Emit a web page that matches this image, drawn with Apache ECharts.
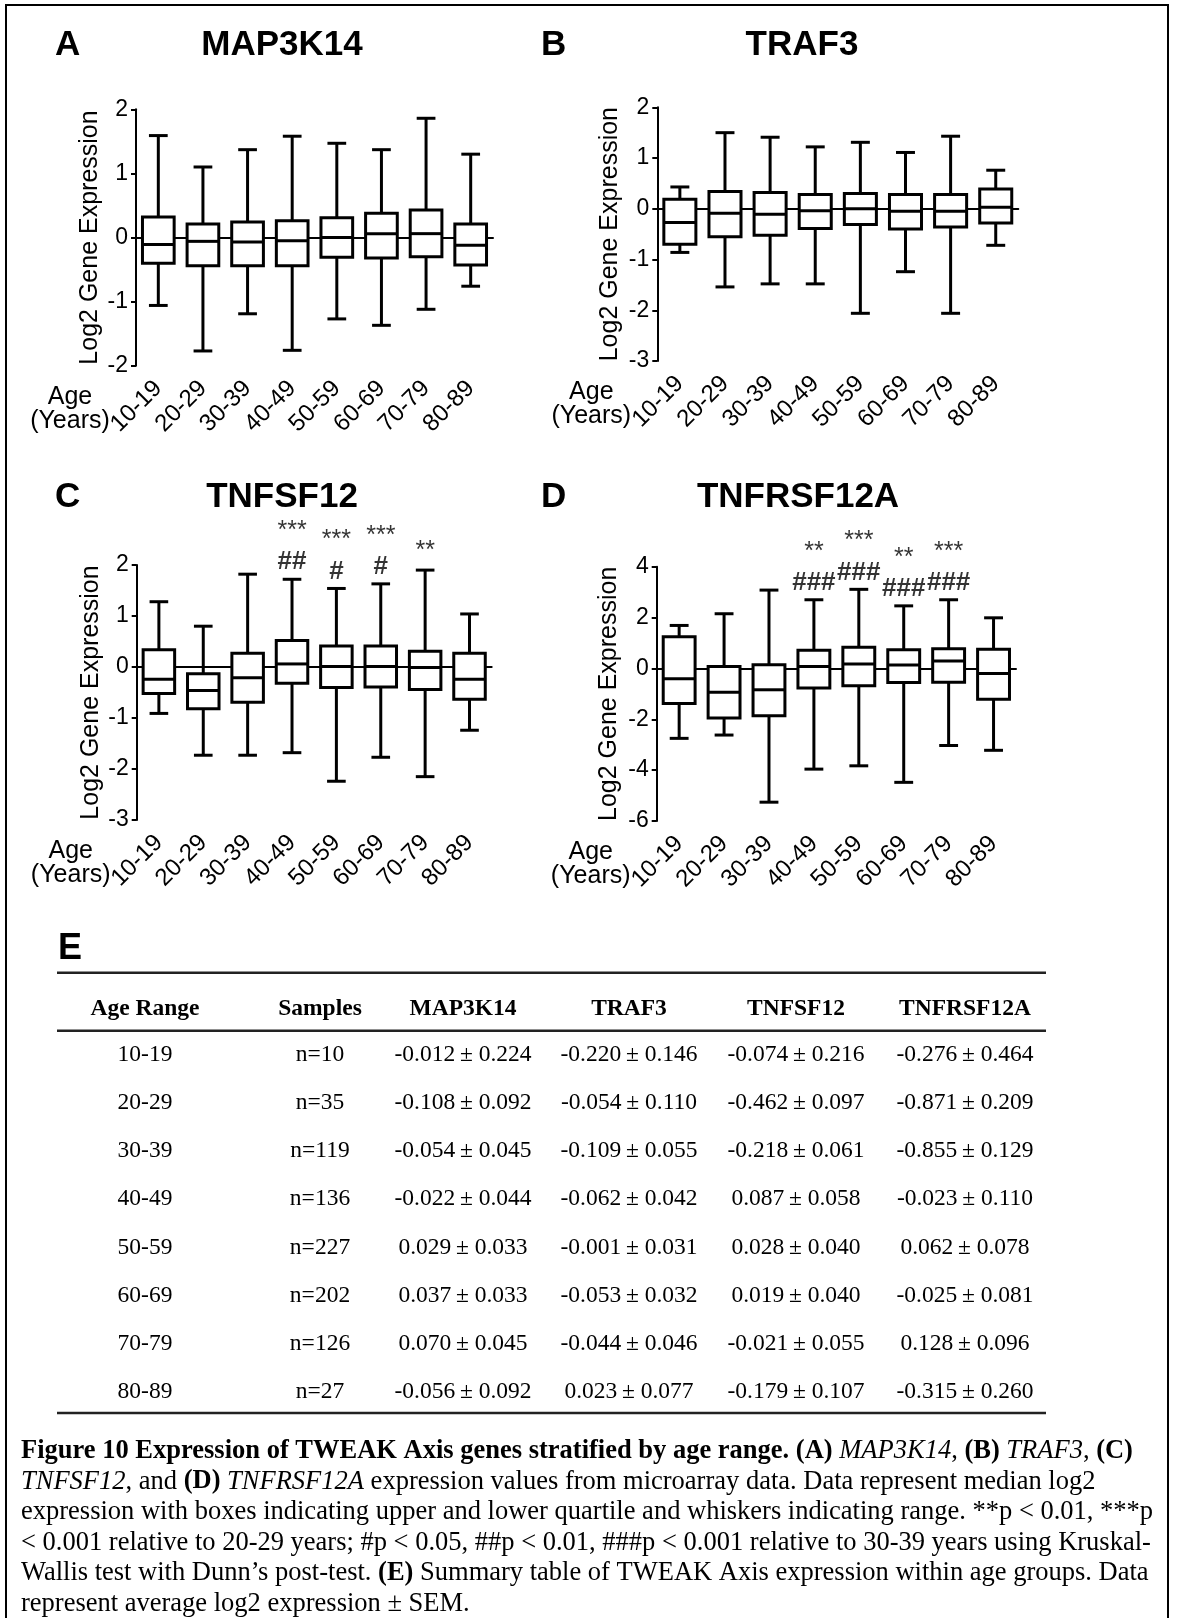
<!DOCTYPE html>
<html>
<head>
<meta charset="utf-8">
<script src="https://cdn.jsdelivr.net/npm/echarts@6/dist/echarts.min.js"></script>
<style>
html,body{margin:0;padding:0;background:#fff;}
#chart{width:1182px;height:1618px;}
</style>
</head>
<body>
<div id="chart"></div>
<script>
// ---------------- DATA ----------------
const ageGroups = ['10-19','20-29','30-39','40-49','50-59','60-69','70-79','80-89'];

// box values: [min, Q1, median, Q3, max]
const map3k14Box = [
  [-1.06,-0.40,-0.11,0.32,1.59],
  [-1.77,-0.44,-0.06,0.21,1.10],
  [-1.19,-0.44,-0.07,0.24,1.37],
  [-1.76,-0.44,-0.05,0.26,1.58],
  [-1.27,-0.31, 0.00,0.31,1.47],
  [-1.37,-0.32, 0.06,0.38,1.37],
  [-1.12,-0.30, 0.06,0.43,1.86],
  [-0.76,-0.43,-0.12,0.21,1.30]
];
const traf3Box = [
  [-0.86,-0.70,-0.27,0.19,0.43],
  [-1.54,-0.55,-0.09,0.34,1.50],
  [-1.48,-0.52,-0.11,0.32,1.41],
  [-1.48,-0.39,-0.04,0.28,1.22],
  [-2.06,-0.31, 0.00,0.30,1.31],
  [-1.24,-0.40,-0.05,0.28,1.11],
  [-2.06,-0.36,-0.05,0.28,1.43],
  [-0.72,-0.28, 0.03,0.39,0.76]
];
const tnfsf12Box = [
  [-0.91,-0.52,-0.24, 0.34,1.28],
  [-1.73,-0.82,-0.46,-0.13,0.80],
  [-1.73,-0.69,-0.21, 0.27,1.82],
  [-1.68,-0.32, 0.06, 0.52,1.72],
  [-2.24,-0.40, 0.01, 0.41,1.54],
  [-1.77,-0.39, 0.01, 0.41,1.63],
  [-2.15,-0.44,-0.01, 0.31,1.90],
  [-1.24,-0.63,-0.24, 0.27,1.04]
];
const tnfrsf12aBox = [
  [-2.75,-1.38,-0.41,1.25,1.69],
  [-2.62,-1.95,-0.94,0.08,2.15],
  [-5.26,-1.86,-0.84,0.14,3.08],
  [-3.96,-0.77, 0.08,0.71,2.70],
  [-3.83,-0.68, 0.17,0.83,3.11],
  [-4.48,-0.55, 0.13,0.73,2.46],
  [-3.03,-0.54, 0.29,0.77,2.70],
  [-3.22,-1.21,-0.20,0.75,1.99]
];

// significance marks
const tnfsf12Stars  = ['','','','***','***','***','**',''];
const tnfsf12Hashes = ['','','','##','#','#','',''];
const tnfrsf12aStars  = ['','','','**','***','**','***',''];
const tnfrsf12aHashes = ['','','','###','###','###','###',''];

// y axis ticks
const map3k14Ticks   = {min:-2, max:2, interval:1};
const traf3Ticks     = {min:-3, max:2, interval:1};
const tnfsf12Ticks   = {min:-3, max:2, interval:1};
const tnfrsf12aTicks = {min:-6, max:4, interval:2};

// table E
const tableHeaders = ['Age Range','Samples','MAP3K14','TRAF3','TNFSF12','TNFRSF12A'];
const sampleCounts = [10,35,119,136,227,202,126,27];
const map3k14Mean = [-0.012,-0.108,-0.054,-0.022,0.029,0.037,0.070,-0.056];
const map3k14Sem  = [0.224,0.092,0.045,0.044,0.033,0.033,0.045,0.092];
const traf3Mean = [-0.220,-0.054,-0.109,-0.062,-0.001,-0.053,-0.044,0.023];
const traf3Sem  = [0.146,0.110,0.055,0.042,0.031,0.032,0.046,0.077];
const tnfsf12Mean = [-0.074,-0.462,-0.218,0.087,0.028,0.019,-0.021,-0.179];
const tnfsf12Sem  = [0.216,0.097,0.061,0.058,0.040,0.040,0.055,0.107];
const tnfrsf12aMean = [-0.276,-0.871,-0.855,-0.023,0.062,-0.025,0.128,-0.315];
const tnfrsf12aSem  = [0.464,0.209,0.129,0.110,0.078,0.081,0.096,0.260];

// caption (rich text lines)
const captionLines = [
  '{b|Figure 10 Expression of TWEAK Axis genes stratified by age range.} {b|(A)} {i|MAP3K14}, {b|(B)} {i|TRAF3}, {b|(C)}',
  '{i|TNFSF12}, and {b|(D)} {i|TNFRSF12A} expression values from microarray data. Data represent median log2',
  'expression with boxes indicating upper and lower quartile and whiskers indicating range. **p < 0.01, ***p',
  '< 0.001 relative to 20-29 years; #p < 0.05, ##p < 0.01, ###p < 0.001 relative to 30-39 years using Kruskal-',
  'Wallis test with Dunn\u2019s post-test. {b|(E)} Summary table of TWEAK Axis expression within age groups. Data',
  'represent average log2 expression \u00b1 SEM.'
];

// ---------------- LAYOUT / STYLE ----------------
const SANS = '"Liberation Sans", Arial, Helvetica, sans-serif';
const SERIF = '"Liberation Serif", "Times New Roman", Times, serif';

const panels = [
  {letter:'A', gene:'MAP3K14', box:map3k14Box, ticks:map3k14Ticks, stars:null, hashes:null,
   grid:{left:136, top:109.3, width:357, height:256.4}, titleX:282, rowY:45, letterX:55, nameGap:33},
  {letter:'B', gene:'TRAF3', box:traf3Box, ticks:traf3Ticks, stars:null, hashes:null,
   grid:{left:657.3, top:107.3, width:361, height:253.7}, titleX:802, rowY:45, letterX:541, nameGap:35},
  {letter:'C', gene:'TNFSF12', box:tnfsf12Box, ticks:tnfsf12Ticks, stars:tnfsf12Stars, hashes:tnfsf12Hashes,
   grid:{left:136.7, top:565, width:355, height:255}, titleX:282, rowY:497, letterX:55, nameGap:33},
  {letter:'D', gene:'TNFRSF12A', box:tnfrsf12aBox, ticks:tnfrsf12aTicks, stars:tnfrsf12aStars, hashes:tnfrsf12aHashes,
   grid:{left:656.7, top:566.7, width:359.3, height:254.3}, titleX:798, rowY:497, letterX:541, nameGap:35}
];

function txt(x, y, text, font, align, extra) {
  return Object.assign({
    type:'text', x:x, y:y, silent:true,
    style:{text:text, font:font, fill:'#000', align:align||'center', textAlign:align||'center',
           verticalAlign:'middle', textVerticalAlign:'middle'}
  }, extra||{});
}

function boxRender(params, api) {
  const i = api.value(0);
  const band = api.size([1, 0])[0];
  const bw = band * 0.71, cw = band * 0.42;
  const pMin = api.coord([i, api.value(1)]);
  const pQ1 = api.coord([i, api.value(2)]);
  const pMed = api.coord([i, api.value(3)]);
  const pQ3 = api.coord([i, api.value(4)]);
  const pMax = api.coord([i, api.value(5)]);
  const cx = pMed[0];
  const st = {stroke:'#000', lineWidth:3};
  return {type:'group', children:[
    {type:'line', shape:{x1:cx, y1:pQ3[1], x2:cx, y2:pMax[1]}, style:st},
    {type:'line', shape:{x1:cx, y1:pQ1[1], x2:cx, y2:pMin[1]}, style:st},
    {type:'line', shape:{x1:cx-cw/2, y1:pMax[1], x2:cx+cw/2, y2:pMax[1]}, style:st},
    {type:'line', shape:{x1:cx-cw/2, y1:pMin[1], x2:cx+cw/2, y2:pMin[1]}, style:st},
    {type:'rect', shape:{x:cx-bw/2, y:pQ3[1], width:bw, height:pQ1[1]-pQ3[1]},
     style:{fill:'#fff', stroke:'#000', lineWidth:3}},
    {type:'line', shape:{x1:cx-bw/2, y1:pMed[1], x2:cx+bw/2, y2:pMed[1]}, style:st}
  ]};
}

const grids = [], xAxes = [], yAxes = [], series = [], graphics = [];

panels.forEach(function (p, k) {
  grids.push(Object.assign({containLabel:false}, p.grid));
  xAxes.push({
    type:'category', gridIndex:k, data:ageGroups, position:'bottom',
    axisLine:{show:false, onZero:false}, axisTick:{show:false}, splitLine:{show:false},
    axisLabel:{interval:0, rotate:45, margin:19, fontSize:24, color:'#000', fontFamily:SANS}
  });
  xAxes.push({
    type:'category', gridIndex:k, data:ageGroups, position:'bottom',
    axisLine:{show:true, onZero:true, onZeroAxisIndex:k, lineStyle:{color:'#000', width:2}},
    axisTick:{show:false}, axisLabel:{show:false}, splitLine:{show:false}
  });
  yAxes.push({
    type:'value', gridIndex:k, min:p.ticks.min, max:p.ticks.max, interval:p.ticks.interval,
    axisLine:{show:true, lineStyle:{color:'#000', width:2}},
    axisTick:{show:true, length:5, lineStyle:{color:'#000', width:2}},
    axisLabel:{fontSize:23, color:'#000', margin:8, fontFamily:SANS},
    splitLine:{show:false},
    name:'Log2 Gene Expression', nameLocation:'middle', nameGap:p.nameGap,
    nameTextStyle:{fontSize:25, color:'#000', fontFamily:SANS}
  });
  series.push({
    type:'custom', name:p.gene, xAxisIndex:2*k, yAxisIndex:k, z:3,
    renderItem:boxRender,
    encode:{x:0, y:[1,2,3,4,5]},
    data:p.box.map(function (b, i) { return [i].concat(b); })
  });
  if (p.stars) {
    const hashData = [], starData = [];
    ageGroups.forEach(function (g, i) {
      const top = p.box[i][4];
      if (p.hashes[i]) hashData.push({value:[i, top], label:{formatter:p.hashes[i], offset:[0, -17]}});
      if (p.stars[i]) starData.push({value:[i, top], label:{formatter:p.stars[i], offset:[0, p.hashes[i] ? -48 : -19]}});
    });
    [[hashData, 'bold', 26], [starData, 'normal', 25]].forEach(function (s) {
      series.push({
        type:'scatter', xAxisIndex:2*k, yAxisIndex:k, z:4, silent:true, clip:false,
        symbol:'circle', symbolSize:1, itemStyle:{color:'rgba(0,0,0,0)'},
        label:{show:true, position:'inside', color:'#000', fontSize:s[2], fontWeight:s[1], fontFamily:SANS},
        data:s[0]
      });
    });
  }
  graphics.push(txt(p.titleX, p.rowY, p.gene, 'bold 35px ' + SANS, 'center'));
  graphics.push(txt(p.letterX, p.rowY, p.letter, 'bold 35px ' + SANS, 'left'));
  const ageX = p.grid.left - 66;
  const axisBottom = p.grid.top + p.grid.height;
  graphics.push(txt(ageX, axisBottom + 31, 'Age', '25px ' + SANS, 'center'));
  graphics.push(txt(ageX, axisBottom + 55, '(Years)', '25px ' + SANS, 'center'));
});

// frame
graphics.push({type:'polyline', silent:true,
  shape:{points:[[6,1640],[6,5],[1168,5],[1168,1640]]},
  style:{stroke:'#000', lineWidth:2, fill:null}});

// panel E table
graphics.push(txt(58, 949, 'E', 'bold 36px ' + SANS, 'left'));
const tLeft = 57, tRight = 1046;
const colX = [145, 320, 463, 629, 796, 965];
const headerY = 1008.5, firstRowY = 1055, rowStep = 48.1;
[972.7, 1030.7, 1413].forEach(function (y) {
  graphics.push({type:'line', silent:true, shape:{x1:tLeft, y1:y, x2:tRight, y2:y},
    style:{stroke:'#222', lineWidth:2.5}});
});
tableHeaders.forEach(function (h, c) {
  graphics.push(txt(colX[c], headerY, h, 'bold 23.5px ' + SERIF, 'center'));
});
function fmt(m, s) { return m.toFixed(3) + '\u2009\u00b1 ' + s.toFixed(3); }
ageGroups.forEach(function (g, r) {
  const y = firstRowY + r * rowStep;
  const cells = [g, 'n=' + sampleCounts[r],
    fmt(map3k14Mean[r], map3k14Sem[r]), fmt(traf3Mean[r], traf3Sem[r]),
    fmt(tnfsf12Mean[r], tnfsf12Sem[r]), fmt(tnfrsf12aMean[r], tnfrsf12aSem[r])];
  cells.forEach(function (c, ci) {
    graphics.push(txt(colX[ci], y, c, '23.5px ' + SERIF, 'center'));
  });
});

// caption
const capSize = 26.5;
const capRich = {
  b:{fontSize:capSize, fontFamily:SERIF, fontWeight:'bold', fill:'#000'},
  i:{fontSize:capSize, fontFamily:SERIF, fontStyle:'italic', fill:'#000'}
};
captionLines.forEach(function (line, k) {
  graphics.push({type:'text', x:21, y:1451 + k * 30.6, silent:true,
    style:{text:line, fontSize:capSize, fontFamily:SERIF, fill:'#000', rich:capRich,
           align:'left', textAlign:'left', verticalAlign:'middle', textVerticalAlign:'middle'}});
});

const chart = echarts.init(document.getElementById('chart'), null, {renderer:'canvas'});
chart.setOption({
  animation:false,
  backgroundColor:'#fff',
  grid:grids, xAxis:xAxes, yAxis:yAxes, series:series,
  graphic:{elements:graphics}
});
</script>
</body>
</html>
